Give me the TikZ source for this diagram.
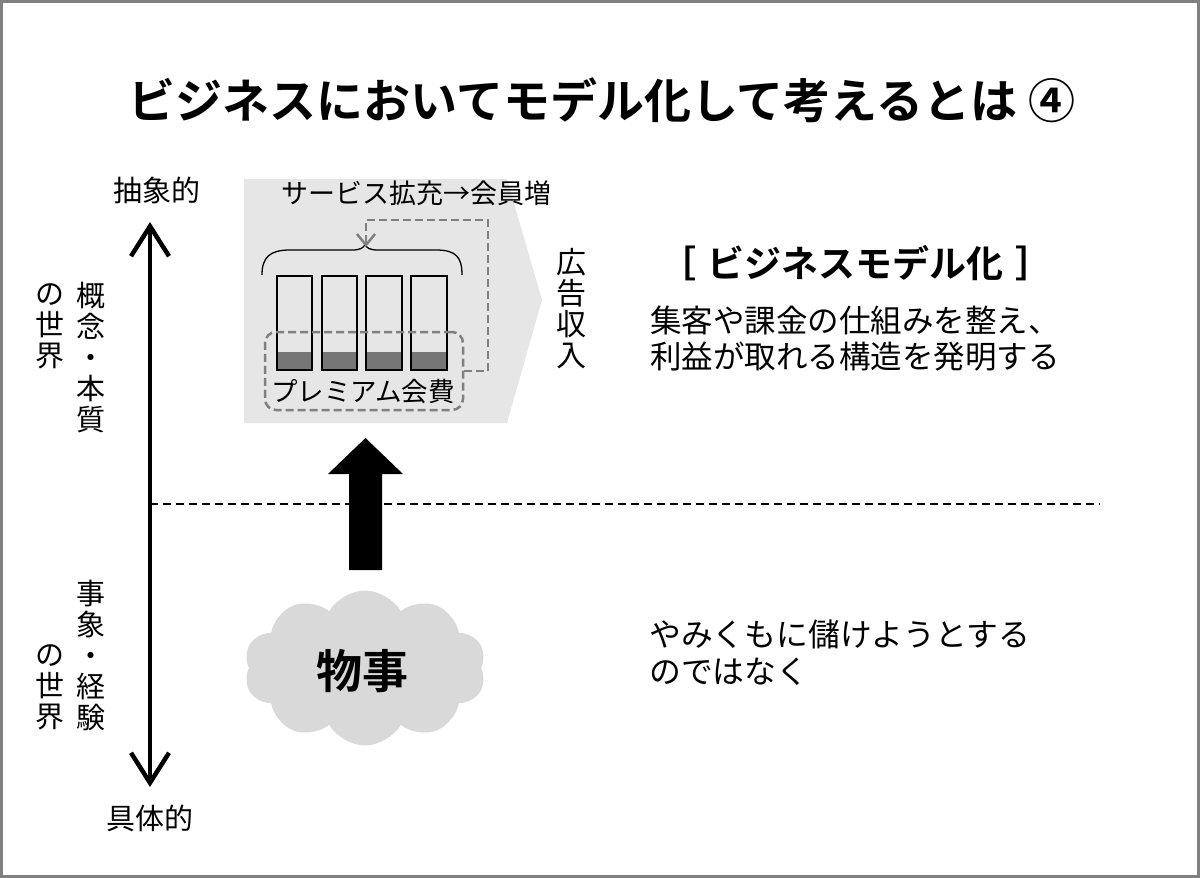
\documentclass[tikz,border=0pt]{standalone}
\usepackage{fontspec}
\setmainfont{Noto Sans CJK JP}[BoldFont={Noto Sans CJK JP Bold}]
\usetikzlibrary{arrows.meta,shapes.symbols}
\definecolor{framec}{RGB}{128,128,128}
\definecolor{panelc}{RGB}{230,230,230}
\definecolor{cloudc}{RGB}{217,217,217}
\definecolor{dashc}{RGB}{128,128,128}
\definecolor{darkc}{RGB}{118,118,118}
\tikzset{
  txt/.style={inner sep=0pt, font=\fontsize{#1}{#1}\selectfont},
  vtxt/.style={inner sep=0pt, align=center, font=\fontsize{29}{31}\selectfont},
  barbox/.style={draw=black, line width=2.5pt},
  gdash/.style={draw=dashc, line width=2.5pt, dash pattern=on 8pt off 4pt},
}
\begin{document}
\begin{tikzpicture}[x=1pt,y=-1pt]
\useasboundingbox (0,0) rectangle (1200,878);
\draw[framec, line width=3pt] (1.5,1.5) rectangle (1198.5,876.5);

% title
\node[inner sep=0pt, font=\bfseries\fontsize{47}{47}\selectfont] (title) at (602,100) {ビジネスにおいてモデル化して考えるとは ④};

% vertical axis
\node[txt=29] (top) at (157,190) {抽象的};
\node[txt=29] (bot) at (150,818) {具体的};
\coordinate (axt) at (150,222);
\coordinate (axb) at (150,787);
\draw[line width=4.5pt, {Straight Barb[length=30pt,width=38pt]}-{Straight Barb[length=30pt,width=38pt]}] (axt) -- (axb);

\node[vtxt] (c1) at (91,358) {概\\念\\・\\本\\質};
\node[vtxt] (w1) at (50,326) {の\\世\\界};
\node[vtxt] (c2) at (91,655) {事\\象\\・\\経\\験};
\node[vtxt] (w2) at (50,687) {の\\世\\界};

% dashed divider
\coordinate (dl) at (150,504);
\coordinate (dr) at (1100,504);
\draw[line width=2pt, dash pattern=on 8pt off 5pt] (dl) -- (dr);

% panel
\fill[panelc] (244,179) -- (507,179) -- (542,300) -- (507,423) -- (244,423) -- cycle;
\node[txt=27] (svc) at (416,193) {サービス拡充→会員増};

% brace
\draw[line width=1.3pt] (262,275) .. controls (262,257) and (270,250) .. (290,250) -- (352,250) .. controls (360,250) and (364,248) .. (365,244) .. controls (366,248) and (370,250) .. (378,250) -- (436,250) .. controls (456,250) and (462,257) .. (462,275);

% bars
\foreach \i/\xa/\xb in {1/277/312, 2/322/357, 3/366/402, 4/411/447}{
  \fill[darkc] (\xa,352) rectangle (\xb,370);
  \node[barbox, minimum width=\xb-\xa, minimum height=94pt, inner sep=0pt] (bar\i) at ({(\xa+\xb)/2},323) {};
}

% premium dashed box
\node[gdash, rounded corners=11pt, minimum width=198pt, minimum height=78pt, inner sep=0pt] (prem) at (364,371) {};
\node[txt=26.5] (premt) at (363,391) {プレミアム会費};
\coordinate (fb1) at (488,371);
\coordinate (fb2) at (488,220);
\coordinate (fb3) at (366,220);
\coordinate (fbtip) at (366,247);
\draw[gdash, -{Straight Barb[length=11pt,width=18pt]}] (prem.east) -- (fb1) -- (fb2) -- (fb3) -- (fbtip);

\node[vtxt, font=\fontsize{30}{31}\selectfont] (ad) at (571,309) {広\\告\\収\\入};

% big arrow
\fill[black] (349,570) -- (349,474) -- (328,474) -- (365.5,438) -- (403,474) -- (382,474) -- (382,570) -- cycle;

% cloud
\node[cloud, cloud puffs=10, cloud puff arc=120, aspect=1.55, fill=cloudc, minimum width=242pt, minimum height=155pt, inner sep=0pt] (cloud) at (365,668) {};
\node[inner sep=0pt, font=\bfseries\fontsize{46}{46}\selectfont] (mono) at (362,671) {物事};

% right texts
\node[inner sep=0pt, font=\bfseries\fontsize{37}{37}\selectfont] (bm) at (856,263) {［\hspace{12pt}ビジネスモデル化\hspace{12pt}］};
\node[txt=31.5, anchor=west] (r1) at (650,321) {集客や課金の仕組みを整え、};
\node[txt=31.5, anchor=west] (r2) at (650,357) {利益が取れる構造を発明する};
\node[txt=31.8, anchor=west] (r3) at (649,634) {やみくもに儲けようとする};
\node[txt=31.8, anchor=west] (r4) at (649,672) {のではなく};
\end{tikzpicture}
\end{document}
